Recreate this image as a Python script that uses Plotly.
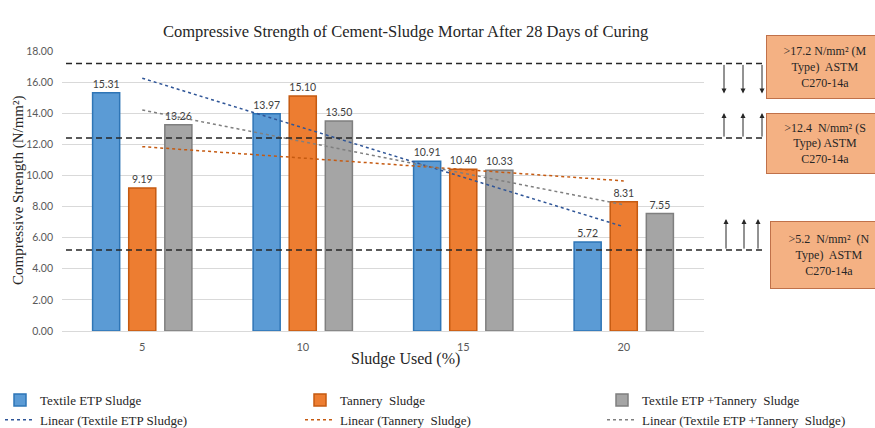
import numpy as np
import plotly.graph_objects as go

# data
sludge_pct = ["5", "10", "15", "20"]
textile_etp = [15.31, 13.97, 10.91, 5.72]
tannery = [9.19, 15.10, 10.40, 8.31]
textile_tannery = [13.26, 13.50, 10.33, 7.55]
y_ticks = [0, 2, 4, 6, 8, 10, 12, 14, 16, 18]

astm_limits = [17.2, 12.4, 5.2]
astm_labels = [">17.2 N/mm² (M<br>Type)  ASTM<br>C270-14a",
               ">12.4  N/mm² (S<br>Type) ASTM<br>C270-14a",
               ">5.2  N/mm²  (N<br>Type)  ASTM<br>C270-14a"]

W, H = 875, 428
L, R, T, B = 62, 704, 51, 331
PW, PH = R - L, B - T


def px(x):
    return (x - L) / PW


def py(y):
    return (B - y) / PH


def trend(vals):
    xs = np.arange(1, len(vals) + 1)
    k, c = np.polyfit(xs, vals, 1)
    return k * xs + c


series = [
    ("Textile ETP Sludge", textile_etp, "#5B9BD5", "#2E75B6", "#2F5597", "legend"),
    ("Tannery  Sludge", tannery, "#ED7D31", "#C55A11", "#C55A11", "legend2"),
    ("Textile ETP +Tannery  Sludge", textile_tannery, "#A5A5A5", "#7F7F7F", "#7F7F7F", "legend3"),
]
num_font = dict(family="Lato", size=10.5, color="#404040")

fig = go.Figure()
for name, vals, fill, edge, _, lg in series:
    fig.add_trace(go.Bar(
        x=sludge_pct, y=vals, name=name, legend=lg,
        marker=dict(color=fill, line=dict(color=edge, width=1.5)),
        text=[f"{v:.2f}" for v in vals], textposition="outside",
        textfont=num_font, cliponaxis=False,
    ))
for name, vals, _, _, tcol, lg in series:
    fig.add_trace(go.Scatter(
        x=sludge_pct, y=trend(vals), mode="lines", name=f"Linear ({name})", legend=lg,
        line=dict(color=tcol, width=1.5, dash="dot"),
    ))

# ASTM reference lines
for lim in astm_limits:
    fig.add_shape(type="line", xref="paper", yref="y", x0=px(66), x1=px(766),
                  y0=lim, y1=lim, line=dict(color="#262626", width=1.5, dash="6px,4px"))

ann = []
# arrows: (x pixels, tail value, length px, direction)
arrow_sets = [([724, 743, 762], astm_limits[0], 30, -1),
              ([724, 743, 762], astm_limits[1], 25, 1),
              ([726, 744, 758], astm_limits[2], 31, 1)]
for xs, lim, length, d in arrow_sets:
    for x in xs:
        ann.append(dict(x=px(x), xref="paper", y=lim + d * length / (PH / 18), yref="y",
                        ax=0, ay=d * length, showarrow=True, arrowhead=2, arrowsize=1,
                        arrowwidth=1, arrowcolor="#262626", text=""))

box_tops = [35, 113, 221]
box_lefts = [766, 766, 770]
box_heights = [58, 55, 62]
for top, left, hgt, txt in zip(box_tops, box_lefts, box_heights, astm_labels):
    ann.append(dict(x=px(left), xref="paper", y=py(top), yref="paper",
                    xanchor="left", yanchor="top", text=txt, showarrow=False,
                    width=112, height=hgt, bgcolor="#F4B183", bordercolor="#C0714A",
                    borderwidth=1, borderpad=2, align="center", valign="middle",
                    font=dict(family="Liberation Serif", size=12, color="#262626")))

ann.append(dict(x=px(405), y=py(20), xref="paper", yref="paper", showarrow=False,
                text="Compressive Strength of Cement-Sludge Mortar After 28 Days of Curing",
                font=dict(family="Liberation Serif", size=16.5, color="#262626")))
ann.append(dict(x=px(405), y=py(370), xref="paper", yref="paper", showarrow=False,
                text="Sludge Used (%)",
                font=dict(family="Liberation Serif", size=16, color="#262626")))
ann.append(dict(x=px(18), y=py(191), xref="paper", yref="paper", showarrow=False,
                xanchor="center", yanchor="middle",
                textangle=-90, text="Compressive Strength (N/mm²)",
                font=dict(family="Liberation Serif", size=15, color="#262626")))

leg_font = dict(family="Liberation Serif", size=13, color="#262626")
leg_common = dict(orientation="v", xanchor="left", yanchor="top", y=py(385),
                  font=leg_font, itemwidth=30, tracegroupgap=0,
                  bgcolor="rgba(0,0,0,0)")

fig.update_layout(
    width=W, height=H,
    margin=dict(l=L, r=W - R, t=T, b=H - B, autoexpand=False),
    paper_bgcolor="white", plot_bgcolor="white",
    barmode="group", bargap=0.325, bargroupgap=0.25,
    annotations=ann,
    legend=dict(x=px(0), **leg_common),
    legend2=dict(x=px(300), **leg_common),
    legend3=dict(x=px(602), **leg_common),
)
fig.update_xaxes(type="category", showgrid=False, showline=True, linecolor="#D9D9D9",
                 tickfont=dict(family="Lato", size=11, color="#595959"),
                 ticks="", ticklabelstandoff=6)
fig.update_yaxes(range=[0, 18], tickvals=y_ticks, tickformat=".2f",
                 gridcolor="#D9D9D9", gridwidth=1, zeroline=False, showline=False,
                 tickfont=dict(family="Lato", size=10.5, color="#595959"),
                 ticklabelstandoff=8)

fig.write_html("out.html", config={"displayModeBar": False},
               post_script="document.body.style.margin='0';")
